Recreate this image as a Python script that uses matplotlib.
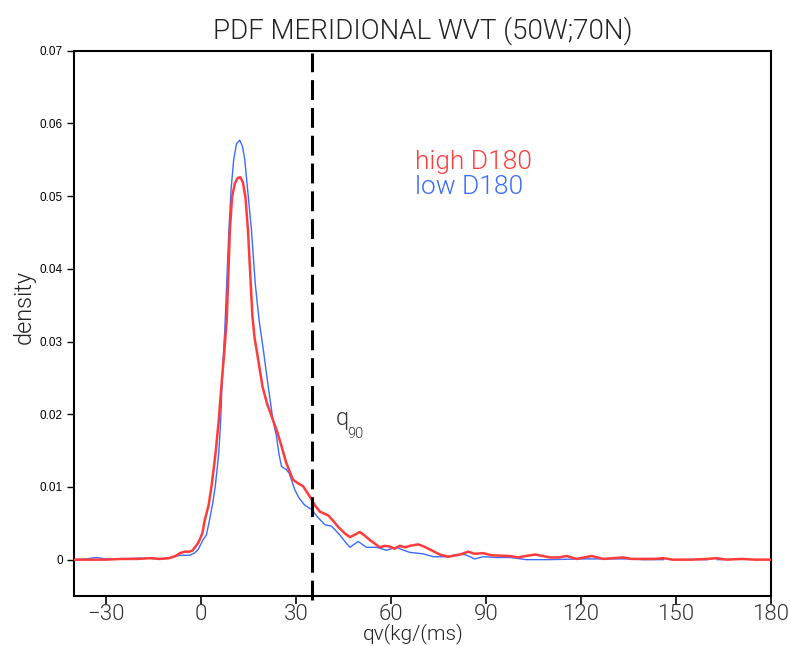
import numpy as np
import matplotlib
matplotlib.use("Agg")
import matplotlib.pyplot as plt
from matplotlib import font_manager

# ---------------- data ----------------
high_x = [-40, -35, -30, -25, -20, -16, -13, -10, -8, -6.5, -5, -3.5, -2.5, -0.8, 0.5, 1.3, 2.5, 3.4,
          4.7, 5.7, 6.5, 7.4, 8.2, 8.7, 9.2, 9.9, 10.8, 11.7, 12.5, 13.3, 14.1, 14.9, 15.6, 16.3,
          17.0, 17.8, 19.5, 20.9, 22.8, 24.2, 25.5, 27.0, 29.1, 30.7, 32.3, 34.4, 36.0, 37.6,
          40.2, 41.5, 43.4, 45.5, 47.1, 48.5, 50.2, 51.8, 53.4, 56.5, 58.0, 59.7, 61.2, 62.8,
          64.5, 66.0, 68.6, 70.5, 72.3, 75.5, 78.1, 81.8, 84.4, 86.5, 89.1, 91.8, 97.6, 100.2,
          102.5, 105.5, 108.0, 110.2, 113.0, 115.5, 118.6, 121.0, 123.4, 127.1, 130.0, 133.3,
          136.0, 140.0, 143.0, 146.0, 149.0, 155.0, 160.0, 162.8, 166.0, 170.7, 175.0, 180.0]
high_y = [0.0, 0.0, 0.0, 0.0001, 0.0001, 0.0002, 0.0001, 0.0002, 0.0005, 0.0009, 0.0011, 0.0011,
          0.0013, 0.0023, 0.0036, 0.0055, 0.0075, 0.0101, 0.0147, 0.0192, 0.0238, 0.0284, 0.0330,
          0.0390, 0.0454, 0.0499, 0.0518, 0.0525, 0.0526, 0.0519, 0.0499, 0.0454, 0.0395, 0.0335,
          0.0305, 0.0284, 0.0238, 0.0215, 0.0192, 0.0175, 0.0156, 0.0133, 0.0110, 0.0105, 0.0101,
          0.0087, 0.0075, 0.0066, 0.0061, 0.0055, 0.0045, 0.0036, 0.0031, 0.0034, 0.0038, 0.0033,
          0.0027, 0.0017, 0.0019, 0.0018, 0.0015, 0.0019, 0.0017, 0.0019, 0.0021, 0.0018, 0.0014,
          0.0007, 0.0004, 0.0007, 0.0011, 0.0008, 0.0009, 0.0006, 0.0005, 0.0003, 0.0005, 0.0007,
          0.0005, 0.0003, 0.0003, 0.0005, 0.0001, 0.0003, 0.0005, 0.0001, 0.0002, 0.0003, 0.0001,
          0.0001, 0.0001, 0.0002, 0.0, 0.0, 0.0001, 0.0002, 0.0, 0.0001, 0.0, 0.0]

low_x = [-40, -36, -33, -30, -25, -20, -16, -12, -9, -6.6, -3.5, -2.0, -0.8, 0.7, 1.8, 2.8, 3.8,
         4.6, 5.7, 6.3, 6.7, 7.2, 7.6, 8.2, 8.9, 9.6, 10.4, 11.3, 12.3, 13.2, 13.9, 15.0, 16.0,
         17.2, 18.4, 19.9, 21.3, 22.8, 23.9, 24.7, 25.5, 27.0, 27.9, 29.7, 31.0, 32.8, 35.0,
         37.0, 39.2, 41.3, 43.9, 45.5, 47.1, 49.7, 52.3, 55.5, 58.6, 61.8, 64.0, 66.0, 70.2,
         73.4, 77.6, 80.7, 83.4, 86.5, 89.1, 93.0, 97.6, 102.8, 110.0, 120.0, 127.0, 135.0,
         140.0, 146.0, np.nan, 157.0, 160.0, np.nan, 163.0, 165.0]
low_y = [0.0, 0.0001, 0.0003, 0.0001, 0.0001, 0.0002, 0.0002, 0.0001, 0.0003, 0.0006, 0.0006,
         0.0009, 0.0014, 0.0027, 0.0034, 0.0055, 0.0078, 0.0101, 0.0147, 0.0192, 0.0238, 0.0284,
         0.0316, 0.0380, 0.0454, 0.0510, 0.0550, 0.0572, 0.0577, 0.0568, 0.0550, 0.0500, 0.0454,
         0.0380, 0.0330, 0.0284, 0.0238, 0.0192, 0.0170, 0.0145, 0.0128, 0.0124, 0.0119, 0.0096,
         0.0085, 0.0075, 0.0069, 0.0058, 0.0048, 0.0046, 0.0034, 0.0025, 0.0017, 0.0025, 0.0017,
         0.0017, 0.0013, 0.0017, 0.0013, 0.0010, 0.0008, 0.0004, 0.0004, 0.0007, 0.0007, 0.0001,
         0.0004, 0.0003, 0.0003, 0.0, 0.0, 0.0001, 0.0001, 0.0001, 0.0, 0.0, np.nan, 0.0, 0.0,
         np.nan, 0.0, 0.0]

q90 = 35
x_ticks = [-30, 0, 30, 60, 90, 120, 150, 180]
x_ticklabels = ["\u221230", "0", "30", "60", "90", "120", "150", "180"]
y_ticks = [0, 0.01, 0.02, 0.03, 0.04, 0.05, 0.06, 0.07]
y_ticklabels = ["0", "0.01", "0.02", "0.03", "0.04", "0.05", "0.06", "0.07"]

title = "PDF MERIDIONAL WVT (50W;70N)"
xlabel = "qv(kg/(ms)"
ylabel = "density"
labels = ["high D180", "low D180"]
colors = ["#ff3b3b", "#3b6bff"]

# ---------------- pick a thin font ----------------
thin = dict(family="DejaVu Sans", weight="normal")
_avail = {}
for f in font_manager.fontManager.ttflist:
    w = f.weight if isinstance(f.weight, int) else 400
    if f.style == "normal" and f.stretch == "normal":
        _avail.setdefault(f.name, set()).add(w)
for fam in ["Roboto", "Lato", "Open Sans", "Inter", "Noto Sans", "DejaVu Sans"]:
    ws = [w for w in _avail.get(fam, set()) if w <= 300]
    if ws:
        thin = dict(family=fam, weight=max(ws))
        break

# ---------------- plot ----------------
fig = plt.figure(figsize=(7.91, 6.46), dpi=100)
ax = fig.add_axes([74 / 791, 50 / 646, (771 - 74) / 791, (596 - 50.7) / 646])
ax.set_xlim(-40, 180)
ax.set_ylim(-0.005, 0.07)

ax.plot(low_x, low_y, color=colors[1], lw=1.0, zorder=3)
ax.plot(high_x, high_y, color=colors[0], lw=1.8, zorder=4)

ax.plot([q90, q90], [-0.0055, 0.0697], color="black", lw=2.2, dashes=(6.5, 2.6),
        clip_on=False, zorder=5)

ax.set_xticks(x_ticks)
ax.set_xticklabels(x_ticklabels, fontsize=16, color="#333333", **thin)
ax.set_yticks(y_ticks)
ax.set_yticklabels(y_ticklabels, fontsize=8.5, family="Liberation Sans")
ax.tick_params(axis="x", direction="out", length=6, width=1.2, pad=0, top=False)
ax.tick_params(axis="y", direction="out", length=5, width=1.0, pad=3, right=False)
for s in ax.spines.values():
    s.set_linewidth(1.5)

fig.text(0.534, 0.953, title, ha="center", va="center", fontsize=20, color="#222222", **thin)
fig.text(0.522, 0.010, xlabel, ha="center", va="baseline", fontsize=15, color="#222222", **thin)
fig.text(0.031, 0.525, ylabel, ha="center", va="center", rotation=90, fontsize=17,
         color="#222222", **thin)

ax.text(67.5, 0.0547, labels[0], color=colors[0], fontsize=19, ha="left", va="center", **thin)
ax.text(67.5, 0.0512, labels[1], color=colors[1], fontsize=19, ha="left", va="center", **thin)

ax.text(42.5, 0.0178, "q", fontsize=17, color="#333333", ha="left", va="bottom", **thin)
ax.text(46.3, 0.0163, "90", fontsize=10.5, color="#333333", ha="left", va="bottom", **thin)

fig.savefig("out.png", dpi=100)
